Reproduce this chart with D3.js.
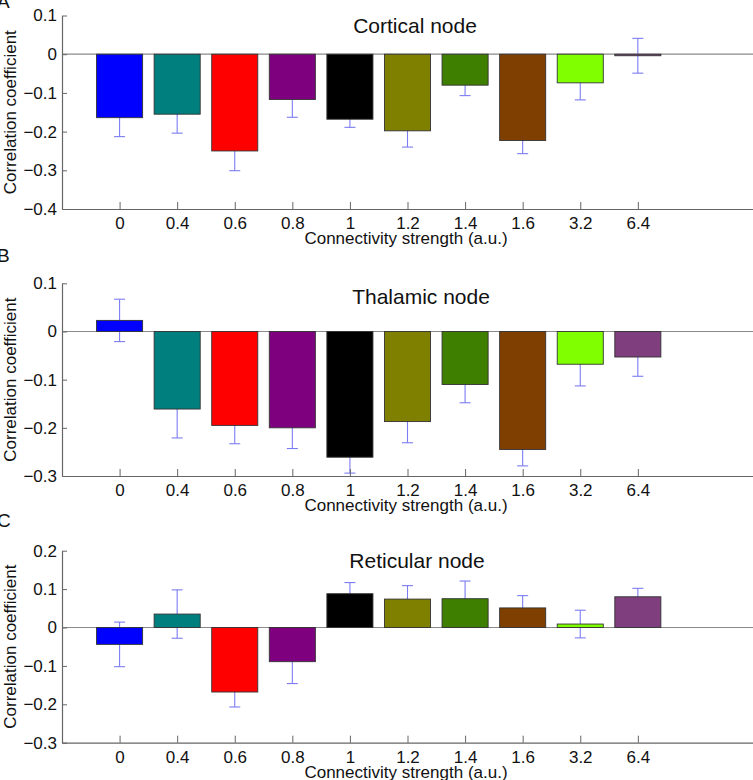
<!DOCTYPE html>
<html>
<head>
<meta charset="utf-8">
<script src="https://cdn.jsdelivr.net/npm/d3@7"></script>
<style>
  body { margin: 0; background: #fff; overflow: hidden; }
  svg { display: block; font-family: "Liberation Sans", Arial, sans-serif; }
</style>
</head>
<body>
<script>
// categories (connectivity strength, a.u.)
const categories = ["0", "0.4", "0.6", "0.8", "1", "1.2", "1.4", "1.6", "3.2", "6.4"];

// correlation coefficients and error bar half-lengths, per node
const corticalValues = [-0.164, -0.155, -0.250, -0.117, -0.168, -0.198, -0.080, -0.223, -0.074, -0.004];
const corticalErrors = [0.049, 0.049, 0.051, 0.046, 0.021, 0.042, 0.027, 0.034, 0.044, 0.045];
const thalamicValues = [0.023, -0.161, -0.195, -0.200, -0.261, -0.187, -0.110, -0.245, -0.068, -0.053];
const thalamicErrors = [0.044, 0.060, 0.038, 0.043, 0.033, 0.044, 0.038, 0.034, 0.045, 0.040];
const reticularValues = [-0.044, 0.035, -0.168, -0.089, 0.088, 0.074, 0.075, 0.051, 0.009, 0.080];
const reticularErrors = [0.058, 0.063, 0.039, 0.057, 0.029, 0.035, 0.046, 0.032, 0.036, 0.022];

// y-axis tick labels per panel
const corticalTicks = [0.1, 0, -0.1, -0.2, -0.3, -0.4];
const thalamicTicks = [0.1, 0, -0.1, -0.2, -0.3];
const reticularTicks = [0.2, 0.1, 0, -0.1, -0.2, -0.3];

const barColors = ["#0000ff", "#007f7f", "#ff0000", "#7f007f", "#000000",
                   "#7f7f00", "#3f7f00", "#7f3f00", "#7fff00", "#7f3f7f"];

const width = 753, height = 780;
const axisLeftX = 62;

const svg = d3.select("body").append("svg")
    .attr("width", width)
    .attr("height", height);

// layout for each panel (pixel positions only)
const panels = [
  { letter: "A", title: "Cortical node", values: corticalValues, errors: corticalErrors, ticks: corticalTicks,
    top: 15.5, bottom: 209, titleX: 415, titleY: 33, letterY: 8 },
  { letter: "B", title: "Thalamic node", values: thalamicValues, errors: thalamicErrors, ticks: thalamicTicks,
    top: 283.3, bottom: 476, titleX: 421, titleY: 304, letterY: 262 },
  { letter: "C", title: "Reticular node", values: reticularValues, errors: reticularErrors, ticks: reticularTicks,
    top: 550.7, bottom: 742.7, titleX: 417, titleY: 568, letterY: 527 }
];

// x positions: categories sit at 1..10 on a 0..12 axis
const x = d3.scaleLinear().domain([0, 12]).range([axisLeftX, width]);
const barW = (x(1) - x(0)) * 0.8;
const fmt = d => d === 0 ? "0" : d3.format(".1f")(d);

panels.forEach(p => {
  const y = d3.scaleLinear()
      .domain([d3.min(p.ticks), d3.max(p.ticks)])
      .range([p.bottom, p.top]);
  const g = svg.append("g");

  // zero line
  g.append("line")
      .attr("x1", axisLeftX).attr("x2", width)
      .attr("y1", y(0)).attr("y2", y(0))
      .attr("stroke", "#8a8a8a").attr("stroke-width", 1.2);

  // error bars (drawn behind bars)
  const eb = g.append("g").attr("stroke", "#7c7cf2").attr("stroke-width", 1.1).attr("fill", "none");
  p.values.forEach((v, i) => {
    const cx = x(i + 1), lo = y(v - p.errors[i]), hi = y(v + p.errors[i]);
    eb.append("line").attr("x1", cx).attr("x2", cx).attr("y1", lo).attr("y2", hi);
    eb.append("line").attr("x1", cx - 5.5).attr("x2", cx + 5.5).attr("y1", lo).attr("y2", lo);
    eb.append("line").attr("x1", cx - 5.5).attr("x2", cx + 5.5).attr("y1", hi).attr("y2", hi);
  });

  // bars
  g.selectAll("rect.bar")
    .data(p.values)
    .join("rect")
      .attr("class", "bar")
      .attr("x", (d, i) => x(i + 1) - barW / 2)
      .attr("width", barW)
      .attr("y", d => y(Math.max(0, d)))
      .attr("height", d => Math.max(1, Math.abs(y(d) - y(0))))
      .attr("fill", (d, i) => barColors[i])
      .attr("stroke", "#333")
      .attr("stroke-width", 0.9);

  // y axis, ticks pointing inward
  const ya = g.append("g")
      .attr("transform", `translate(${axisLeftX},0)`)
      .call(d3.axisLeft(y).tickValues(p.ticks).tickFormat(fmt)
            .tickSizeInner(-5).tickSizeOuter(0).tickPadding(5));

  // x axis, ticks pointing inward
  const xa = g.append("g")
      .attr("transform", `translate(0,${p.bottom})`)
      .call(d3.axisBottom(x).tickValues(d3.range(1, categories.length + 1))
            .tickFormat(d => categories[d - 1])
            .tickSizeInner(-7).tickSizeOuter(0).tickPadding(8));

  [ya, xa].forEach(a => {
    a.select(".domain").attr("stroke", "#666").attr("stroke-width", 1.2);
    a.selectAll(".tick line").attr("stroke", "#666");
    a.selectAll(".tick text").attr("fill", "#111").style("font-size", "17px")
      .style("font-family", "'Liberation Sans', Arial, sans-serif");
  });

  // labels
  g.append("text")
      .attr("x", 406).attr("y", p.bottom + 35)
      .attr("text-anchor", "middle")
      .attr("font-size", 17).attr("fill", "#111")
      .text("Connectivity strength (a.u.)");

  g.append("text")
      .attr("transform", `translate(16,${(p.top + p.bottom) / 2}) rotate(-90)`)
      .attr("text-anchor", "middle")
      .attr("font-size", 17).attr("fill", "#111")
      .text("Correlation coefficient");

  g.append("text")
      .attr("x", p.titleX).attr("y", p.titleY)
      .attr("text-anchor", "middle")
      .attr("font-size", 21).attr("fill", "#111")
      .text(p.title);

  g.append("text")
      .attr("x", -3).attr("y", p.letterY)
      .attr("font-size", 19).attr("fill", "#111")
      .text(p.letter);
});
</script>
</body>
</html>
